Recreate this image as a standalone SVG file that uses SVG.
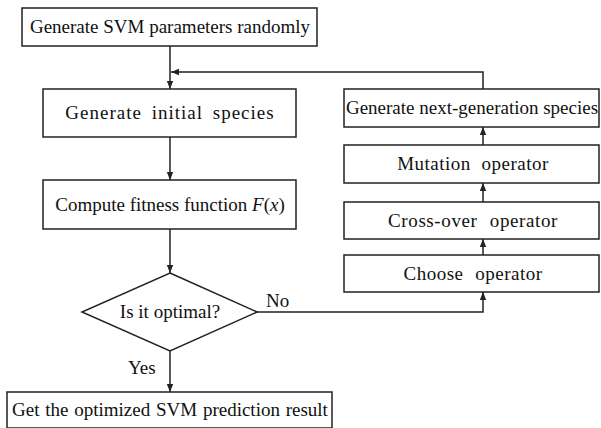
<svg xmlns="http://www.w3.org/2000/svg" width="601" height="428" viewBox="0 0 601 428">
<defs>
<style>
.box{fill:#fff;stroke:#222;stroke-width:1.5}
.t{font-family:"Liberation Serif","Times New Roman",serif;font-size:19px;fill:#111;text-anchor:middle}
.l{font-family:"Liberation Serif","Times New Roman",serif;font-size:19px;fill:#111}
.c{fill:none;stroke:#222;stroke-width:1.5}
</style>
<marker id="ah" viewBox="0 0 10 10" refX="10" refY="5" markerWidth="8" markerHeight="8" markerUnits="userSpaceOnUse" orient="auto">
<path d="M0,1 L10,5 L0,9 Z" fill="#222"/>
</marker>
</defs>
<rect width="601" height="428" fill="#fff"/>
<g id="connectors">
<path class="c" d="M170,46 V89" marker-end="url(#ah)"/>
<path class="c" d="M483,89 V72 H171" marker-end="url(#ah)"/>
<path class="c" d="M170,137 V180" marker-end="url(#ah)"/>
<path class="c" d="M170,229 V273" marker-end="url(#ah)"/>
<path class="c" d="M170,351 V392" marker-end="url(#ah)"/>
<path class="c" d="M257,312 H483 V292" marker-end="url(#ah)"/>
<path class="c" d="M483,255 V239" marker-end="url(#ah)"/>
<path class="c" d="M483,202 V183" marker-end="url(#ah)"/>
<path class="c" d="M483,145 V127" marker-end="url(#ah)"/>
<text class="l" x="266" y="307">No</text>
<text class="l" x="128" y="374">Yes</text>
</g>
<g id="n1">
<rect class="box" x="22" y="8" width="295" height="38"/>
<text class="t" x="170" y="33">Generate SVM parameters randomly</text>
</g>
<g id="n2">
<rect class="box" x="43" y="89" width="253" height="48"/>
<text class="t" x="170" y="119" letter-spacing="1" word-spacing="4">Generate initial species</text>
</g>
<g id="n3">
<rect class="box" x="43" y="180" width="253" height="49"/>
<text class="t" x="170" y="211">Compute fitness function <tspan font-style="italic">F</tspan>(<tspan font-style="italic">x</tspan>)</text>
</g>
<g id="n4">
<polygon class="box" points="170,273 257,312 170,351 82,312"/>
<text class="t" x="170" y="318">Is it optimal?</text>
</g>
<g id="n5">
<rect class="box" x="7" y="392" width="325" height="36"/>
<text class="t" x="170" y="416" word-spacing="1">Get the optimized SVM prediction result</text>
</g>
<g id="n6">
<rect class="box" x="344" y="89" width="255" height="38"/>
<text class="t" x="472" y="114">Generate next-generation species</text>
</g>
<g id="n7">
<rect class="box" x="344" y="145" width="255" height="38"/>
<text class="t" x="473" y="170" letter-spacing="0.5" word-spacing="5.5">Mutation operator</text>
</g>
<g id="n8">
<rect class="box" x="344" y="202" width="255" height="37"/>
<text class="t" x="473" y="227" letter-spacing="0.6" word-spacing="7">Cross-over operator</text>
</g>
<g id="n9">
<rect class="box" x="344" y="255" width="255" height="37"/>
<text class="t" x="473" y="280" letter-spacing="0.5" word-spacing="6.5">Choose operator</text>
</g>
</svg>
